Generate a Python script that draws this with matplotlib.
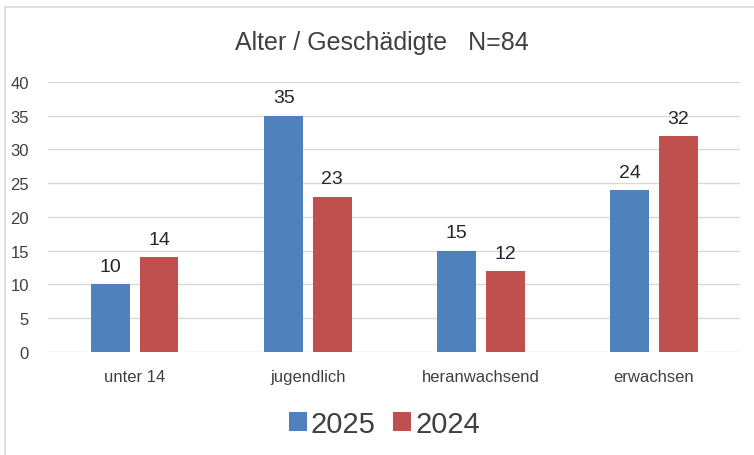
import matplotlib.pyplot as plt
import numpy as np
from matplotlib.patches import Rectangle

categories = ["unter 14", "jugendlich", "heranwachsend", "erwachsen"]
values_2025 = [10, 35, 15, 24]
values_2024 = [14, 23, 12, 32]
series_labels = ["2025", "2024"]
yticks = [0, 5, 10, 15, 20, 25, 30, 35, 40]

plt.rcParams['font.family'] = ['Liberation Sans', 'DejaVu Sans']

fig = plt.figure(figsize=(7.54, 4.56), dpi=100)
ax = fig.add_axes([0.064, 0.226, 0.918, 0.592])

# chart frame
fig.patches.append(Rectangle((0.007, -0.01), 1.0, 0.993, transform=fig.transFigure,
                             fill=False, edgecolor='#d9d9d9', linewidth=1.2))

x = np.arange(len(categories))
w = 0.225
off = 0.14
b1 = ax.bar(x - off, values_2025, w, color='#4F81BD', label=series_labels[0], zorder=3)
b2 = ax.bar(x + off, values_2024, w, color='#C0504D', label=series_labels[1], zorder=3)

for bars in (b1, b2):
    for r in bars:
        ax.text(r.get_x() + r.get_width() / 2, r.get_height() + 1.4, f"{int(r.get_height())}",
                ha='center', va='bottom', fontsize=14, color='#262626')

ax.set_xlim(-0.5, 3.5)
ax.set_ylim(0, 40)
ax.set_yticks(yticks)
ax.set_xticks(x)
ax.set_xticklabels(categories, fontsize=12, color='#404040')
ax.tick_params(axis='y', labelsize=12, labelcolor='#404040', length=0, pad=14)
ax.tick_params(axis='x', length=0, pad=12)
ax.grid(axis='y', color='#d9d9d9', linewidth=1, zorder=0)
for s in ax.spines.values():
    s.set_visible(False)

fig.text(0.507, 0.905, "Alter / Geschädigte   N=84", ha='center', va='center',
         fontsize=18, color='#404040')

fig.legend(handles=[b1, b2], loc='center', bbox_to_anchor=(0.51, 0.068), ncol=2,
           frameon=False, fontsize=21, handlelength=0.6, handleheight=0.6,
           handletextpad=0.15, columnspacing=0.6, labelcolor='#404040')

fig.savefig("out.png", dpi=100)
